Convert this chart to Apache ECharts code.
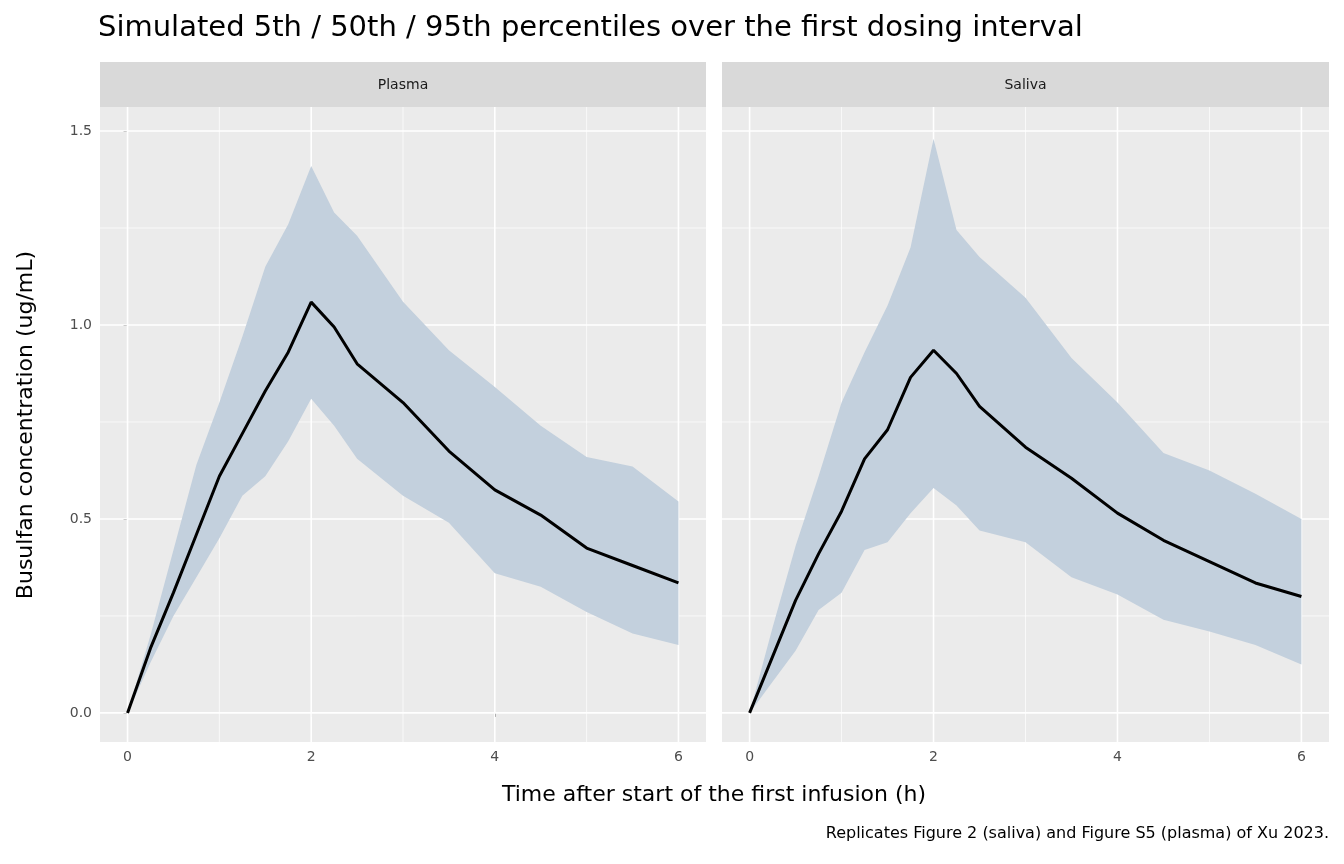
<!DOCTYPE html><html><head><meta charset="utf-8"><script src="https://cdn.jsdelivr.net/npm/echarts@6/dist/echarts.min.js"></script></head><body style="margin:0"><div id="c" style="width:1344px;height:864px"></div><script>
const timeP=[0,0.25,0.5,0.75,1,1.25,1.5,1.75,2,2.25,2.5,3,3.5,4,4.5,5,5.5,6];
const medP=[0,0.167,0.31,0.46,0.61,0.72,0.83,0.93,1.059,0.995,0.9,0.8,0.675,0.575,0.51,0.425,0.38,0.335];
const hiP=[0,0.2,0.42,0.64,0.8,0.97,1.15,1.26,1.41,1.29,1.23,1.06,0.935,0.84,0.74,0.66,0.635,0.545];
const loP=[0,0.13,0.25,0.35,0.45,0.56,0.61,0.7,0.81,0.74,0.655,0.56,0.49,0.36,0.325,0.26,0.205,0.175];
const timeS=[0,0.25,0.5,0.75,1,1.25,1.5,1.75,2,2.25,2.5,3,3.5,4,4.5,5,5.5,6];
const medS=[0,0.145,0.29,0.41,0.52,0.655,0.73,0.865,0.935,0.875,0.79,0.685,0.605,0.515,0.445,0.39,0.335,0.3];
const hiS=[0,0.22,0.43,0.61,0.8,0.93,1.05,1.2,1.48,1.245,1.175,1.07,0.915,0.8,0.67,0.625,0.565,0.5];
const loS=[0,0.08,0.16,0.265,0.31,0.42,0.44,0.515,0.58,0.535,0.47,0.44,0.35,0.305,0.24,0.21,0.175,0.125];
const xMajor=[0,2,4,6], xMinor=[1,3,5];
const yMajor=[0,0.5,1,1.5], yMinor=[0.25,0.75,1.25];
const XMIN=-0.3,XMAX=6.3,YMIN=-0.075,YMAX=1.562;
const F='DejaVu Sans';
function xa(i){return {gridIndex:i,type:'value',min:XMIN,max:XMAX,splitLine:{show:false},axisLine:{show:false},
 axisTick:{show:true,customValues:xMajor,lineStyle:{color:'#333'},length:4},
 axisLabel:{customValues:xMajor,color:'#4d4d4d',fontSize:14,fontFamily:F}};}
function ya(i){return {gridIndex:i,type:'value',min:YMIN,max:YMAX,splitLine:{show:false},axisLine:{show:false},
 axisTick:{show:i===0,customValues:yMajor,lineStyle:{color:'#333'},length:4},
 axisLabel:{show:i===0,customValues:yMajor,color:'#4d4d4d',fontSize:14,fontFamily:F,formatter:v=>v.toFixed(1)}};}
function gl(i,pts,w){return {type:'line',xAxisIndex:i,yAxisIndex:i,data:pts,symbol:'none',silent:true,lineStyle:{color:'#fff',width:w},z:1};}
function grids(i){const s=[];
 xMajor.forEach(v=>s.push(gl(i,[[v,YMIN],[v,YMAX]],1.6)));xMinor.forEach(v=>s.push(gl(i,[[v,YMIN],[v,YMAX]],0.7)));
 yMajor.forEach(v=>s.push(gl(i,[[XMIN,v],[XMAX,v]],1.6)));yMinor.forEach(v=>s.push(gl(i,[[XMIN,v],[XMAX,v]],0.7)));return s;}
function band(i,t,lo,hi,med){return [
 {type:'custom',xAxisIndex:i,yAxisIndex:i,data:[0],silent:true,z:2,renderItem:(p,api)=>{
   const pts=t.map((x,k)=>api.coord([x,hi[k]])).concat(t.map((x,k)=>api.coord([x,lo[k]])).reverse());
   return {type:'polygon',shape:{points:pts},style:{fill:'#c3d0dd'}};}},
 {type:'line',xAxisIndex:i,yAxisIndex:i,data:t.map((x,k)=>[x,med[k]]),symbol:'none',z:3,lineStyle:{color:'#000',width:3}}];}
const strip=(x,w,txt)=>({type:'group',children:[{type:'rect',shape:{x:x,y:62,width:w,height:45},style:{fill:'#d9d9d9'}},
 {type:'text',x:x+w/2,y:85,style:{text:txt,fill:'#1a1a1a',fontFamily:F,fontSize:14,align:'center',verticalAlign:'middle'}}]});
echarts.init(document.getElementById('c')).setOption({
 animation:false,backgroundColor:'#fff',
 grid:[{left:100,top:107,width:606,height:635,backgroundColor:'#ebebeb',show:true,borderWidth:0},
       {left:722,top:107,width:607,height:635,backgroundColor:'#ebebeb',show:true,borderWidth:0}],
 xAxis:[xa(0),xa(1)],yAxis:[ya(0),ya(1)],
 series:[...grids(0),...grids(1),...band(0,timeP,loP,hiP,medP),...band(1,timeS,loS,hiS,medS)],
 graphic:[strip(100,606,'Plasma'),strip(722,607,'Saliva'),
  {type:'text',x:98,y:14,style:{text:'Simulated 5th / 50th / 95th percentiles over the first dosing interval',fill:'#000',fontFamily:F,fontSize:29}},
  {type:'text',x:714,y:784,style:{text:'Time after start of the first infusion (h)',fill:'#000',fontFamily:F,fontSize:22,align:'center'}},
  {type:'text',x:1329,y:826,style:{text:'Replicates Figure 2 (saliva) and Figure S5 (plasma) of Xu 2023.',fill:'#000',fontFamily:F,fontSize:16,align:'right'}},
  {type:'text',x:26,y:425,rotation:Math.PI/2,style:{text:'Busulfan concentration (ug/mL)',fill:'#000',fontFamily:F,fontSize:22,align:'center',verticalAlign:'middle'}}]
});
</script></body></html>
